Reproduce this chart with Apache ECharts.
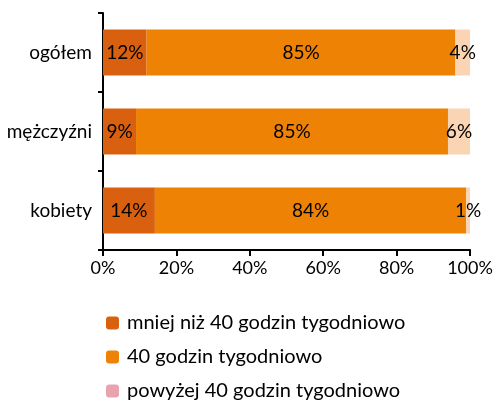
<!DOCTYPE html>
<html>
<head>
<meta charset="utf-8">
<script src="https://cdn.jsdelivr.net/npm/echarts@6/dist/echarts.min.js"></script>
<style>
  html, body { margin: 0; padding: 0; background: #fff; }
  #chart { width: 497px; height: 407px; }
</style>
</head>
<body>
<div id="chart"></div>
<script>
const categories = ["ogółem", "mężczyźni", "kobiety"];
const seriesNames = [
  "mniej niż 40 godzin tygodniowo",
  "40 godzin tygodniowo",
  "powyżej 40 godzin tygodniowo"
];
const below40 = [12, 9, 14];
const exactly40 = [85, 85, 84];
const above40 = [4, 6, 1];
const xTicks = [0, 20, 40, 60, 80, 100];

const barColors = ["#D9600F", "#EE8204", "#FAD4B3"];
const legendColors = ["#D9600F", "#EE8204", "#E8A3AE"];

const raw = [below40, exactly40, above40];
// 100% stacked: share of each row total
const totals = categories.map((_, i) => raw.reduce((s, arr) => s + arr[i], 0));

const font = "Lato, 'Open Sans', sans-serif";

const chart = echarts.init(document.getElementById("chart"));
chart.setOption({
  animation: false,
  textStyle: { fontFamily: font },
  grid: { left: 103, right: 27, top: 13, bottom: 157 },
  xAxis: {
    type: "value",
    min: xTicks[0],
    max: xTicks[xTicks.length - 1],
    interval: 20,
    axisLine: { show: true, lineStyle: { color: "#000", width: 2 } },
    axisTick: { show: true, length: 6, lineStyle: { color: "#000", width: 2 } },
    splitLine: { show: false },
    axisLabel: { formatter: "{value}%", color: "#000", fontSize: 18, margin: 9, fontFamily: font }
  },
  yAxis: {
    type: "category",
    inverse: true,
    data: categories,
    axisLine: { show: true, lineStyle: { color: "#000", width: 2 } },
    axisTick: { show: true, length: 5, lineStyle: { color: "#000", width: 2 } },
    axisLabel: { color: "#000", fontSize: 19, margin: 11, fontFamily: font }
  },
  legend: {
    orient: "vertical",
    left: 101,
    top: 308,
    itemWidth: 13,
    itemHeight: 13,
    itemGap: 14,
    textStyle: { color: "#000", fontSize: 20, fontFamily: font, padding: [0, 0, 0, 3] },
    data: seriesNames.map((n, k) => ({ name: n, itemStyle: { color: legendColors[k] } }))
  },
  series: seriesNames.map((name, k) => ({
    name: name,
    type: "bar",
    stack: "total",
    barWidth: "58%",
    itemStyle: { color: barColors[k] },
    label: {
      show: true,
      position: "inside",
      color: "#000",
      fontSize: 19,
      fontFamily: font,
      formatter: (p) => raw[k][p.dataIndex] + "%"
    },
    data: raw[k].map((v, i) => (v / totals[i]) * 100)
  }))
});
</script>
</body>
</html>
